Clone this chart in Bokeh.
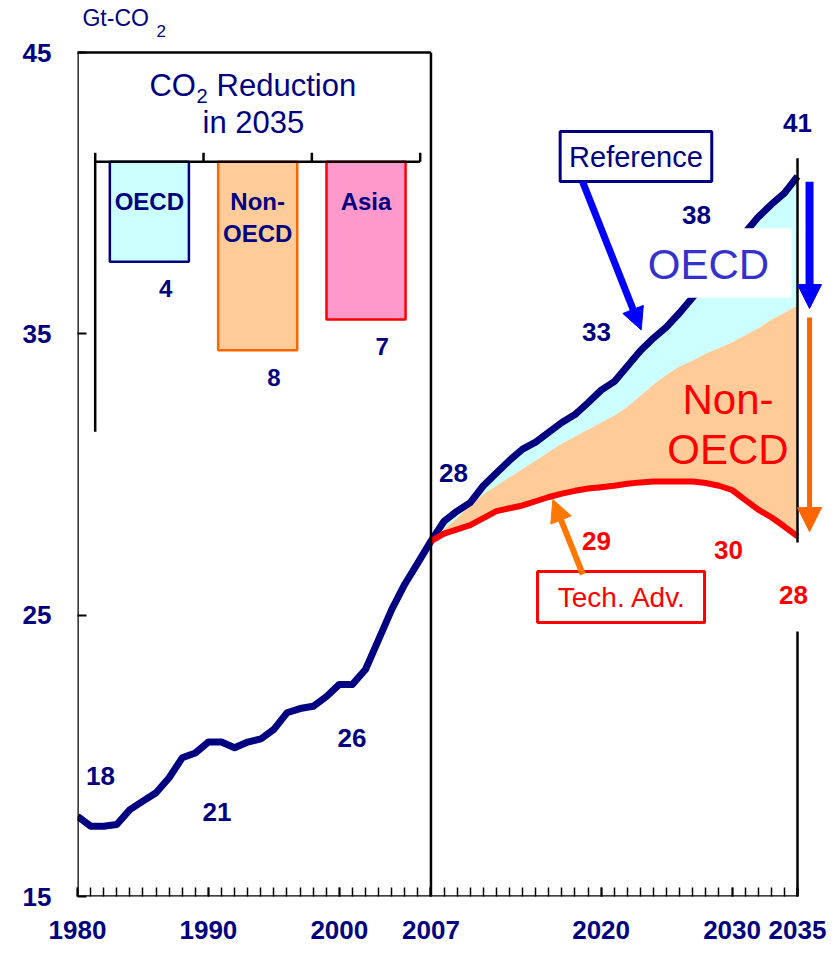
from bokeh.plotting import figure
from bokeh.models import Range1d, FixedTicker, Arrow, NormalHead
from bokeh.core.properties import value
from bokeh.embed import file_html
from bokeh.resources import INLINE

FONT = "Liberation Sans"
NAVY = "#000080"
RED = "#FF0000"

# ---------------- data ----------------
hist_years = list(range(1980, 2008))
ref_hist = [17.85, 17.5, 17.5, 17.56, 18.09, 18.39, 18.69, 19.22, 19.93, 20.1,
            20.49, 20.49, 20.29, 20.49, 20.6, 20.94, 21.53, 21.68, 21.76, 22.1,
            22.54, 22.54, 23.07, 24.13, 25.2, 26.1, 26.86, 27.63]
proj_years = list(range(2007, 2036))
ref_proj = [27.63, 28.34, 28.7, 29.0, 29.6, 30.05, 30.5, 30.9, 31.15, 31.5,
            31.85, 32.13, 32.55, 33.0, 33.3, 33.85, 34.4, 34.85, 35.25, 35.75,
            36.3, 36.9, 37.5, 38.1, 38.6, 39.15, 39.6, 40.0, 40.6]
oecd_cut = [27.63, 28.05, 28.45, 28.9, 29.3, 29.6, 29.9, 30.2, 30.5, 30.8,
            31.1, 31.35, 31.6, 31.85, 32.1, 32.4, 32.8, 33.2, 33.55, 33.85,
            34.05, 34.3, 34.5, 34.7, 34.95, 35.2, 35.5, 35.75, 36.0]
tech_adv = [27.63, 27.9, 28.05, 28.2, 28.45, 28.7, 28.8, 28.9, 29.05, 29.2,
            29.32, 29.42, 29.5, 29.55, 29.6, 29.67, 29.72, 29.75, 29.75, 29.75,
            29.75, 29.7, 29.6, 29.45, 29.1, 28.75, 28.48, 28.15, 27.8]

ref_years = hist_years + proj_years[1:]
ref_all = ref_hist + ref_proj[1:]

x_tick_years = [1980, 1990, 2000, 2007, 2020, 2030, 2035]
y_ticks = [15, 25, 35, 45]

# value labels on the chart
navy_labels = ["18", "21", "26", "28", "33", "38", "41"]
navy_lab_x = [1981.76, 1990.66, 2000.97, 2008.72, 2019.65, 2027.29, 2035.0]
navy_lab_y = [19.28, 18.02, 20.65, 30.07, 35.08, 39.21, 42.51]
red_labels = ["29", "30", "28"]
red_lab_x = [2019.65, 2029.73, 2034.69]
red_lab_y = [27.65, 27.30, 25.70]

# inset: CO2 reduction in 2035
regions = ["OECD", "Non-OECD", "Asia"]
reduction = [4.4, 8.3, 6.95]
reduction_labels = ["4", "8", "7"]
bar_fill = ["#CCFFFF", "#FFCC99", "#FF99CC"]
bar_line = [NAVY, "#FF6600", RED]

# ---------------- figure ----------------
PX_PER_YEAR = 720 / 55
W, H = 830, 950
X0, X1 = 1980, 1980 + (W - 77) / PX_PER_YEAR
p = figure(width=W, height=H, x_range=Range1d(X0, X1), y_range=Range1d(15, 46.849),
           output_backend="svg", toolbar_location=None, title=None,
           min_border_left=77, min_border_right=0, min_border_top=0, min_border_bottom=H - 896)
p.outline_line_color = None
p.grid.visible = False
p.background_fill_color = "white"
p.border_fill_color = "white"

p.extra_x_ranges = {"ix": Range1d(-0.1634, -0.1634 + (W - 77) / 108.33)}
p.extra_y_ranges = {"iy": Range1d(32.366, 32.366 - 896 / 22.7)}

# axes
xa = p.xaxis[0]
xa.ticker = FixedTicker(ticks=x_tick_years, minor_ticks=list(range(1980, 2036)))
xa.axis_line_color = None
xa.major_tick_in = 9
xa.major_tick_out = 0
xa.minor_tick_in = 9
xa.minor_tick_out = 0
xa.major_tick_line_width = 2
xa.minor_tick_line_width = 1.5
xa.major_tick_line_color = "black"
xa.minor_tick_line_color = "black"
xa.major_label_text_font = FONT
xa.major_label_text_font_style = "bold"
xa.major_label_text_font_size = "26px"
xa.major_label_text_color = NAVY
xa.major_label_standoff = 24

ya = p.yaxis[0]
ya.ticker = FixedTicker(ticks=y_ticks, minor_ticks=[])
ya.axis_line_color = None
ya.major_tick_in = 9
ya.major_tick_out = 0
ya.minor_tick_in = 0
ya.minor_tick_out = 0
ya.major_tick_line_width = 2
ya.major_tick_line_color = "black"
ya.major_label_text_font = FONT
ya.major_label_text_font_style = "bold"
ya.major_label_text_font_size = "26px"
ya.major_label_text_color = NAVY
ya.major_label_standoff = 26

# areas
p.varea(x=proj_years, y1=oecd_cut, y2=ref_proj, fill_color="#CCFFFF")
p.varea(x=proj_years, y1=tech_adv, y2=oecd_cut, fill_color="#FFCC99")

# lines
p.line(ref_years, ref_all, line_color=NAVY, line_width=7, line_join="round")
p.line(proj_years, tech_adv, line_color=RED, line_width=6, line_join="round")

# white OECD label box covering the line
p.rect(x=[2028.74], y=[37.52], width=11.59, height=2.474, fill_color="white", line_color=None)
p.text(x=[2028.2], y=[37.46], text=["OECD"], text_font=value(FONT), text_font_size="42px",
       text_color="#3333CC", text_align="center", text_baseline="middle")
p.text(x=[2029.69, 2029.69], y=[32.65, 30.89], text=["Non-", "OECD"], text_font=value(FONT),
       text_font_size="42px", text_color=RED, text_align="center", text_baseline="middle")

# frame lines
p.segment(x0=[1980, 1980, 1980, 2007, 2035, 2035], y0=[15, 15, 45, 15, 15, 27.58],
          x1=[1980, 2035, 2007, 2007, 2035, 2035], y1=[45, 15, 45, 45, 24.42, 41.24],
          line_color="black", line_width=2.5)

# value labels
p.text(x=navy_lab_x, y=navy_lab_y, text=navy_labels, text_font=value(FONT), text_font_size="26px",
       text_font_style="bold", text_color=NAVY, text_align="center", text_baseline="middle")
p.text(x=red_lab_x, y=red_lab_y, text=red_labels, text_font=value(FONT), text_font_size="26px",
       text_font_style="bold", text_color=RED, text_align="center", text_baseline="middle")

# unit label
p.text(x=[1980.38], y=[46.21], text=["Gt-CO"], text_font=value(FONT), text_font_size="23px",
       text_color=NAVY, text_align="left", text_baseline="middle")
p.text(x=[1986.03], y=[45.76], text=["2"], text_font=value(FONT), text_font_size="17px",
       text_color=NAVY, text_align="left", text_baseline="middle")

# Reference / Tech. Adv. boxes
p.rect(x=[2022.66], y=[41.30], width=11.58, height=1.777, fill_color="white",
       line_color=NAVY, line_width=3)
p.text(x=[2022.66], y=[41.28], text=["Reference"], text_font=value(FONT), text_font_size="29px",
       text_color=NAVY, text_align="center", text_baseline="middle")
p.rect(x=[2021.52], y=[25.646], width=12.76, height=1.81, fill_color="white",
       line_color=RED, line_width=3)
p.text(x=[2021.6], y=[25.63], text=["Tech. Adv."], text_font=value(FONT), text_font_size="28px",
       text_color=RED, text_align="center", text_baseline="middle")

# arrows
p.add_layout(Arrow(end=NormalHead(size=22, fill_color="#0000FF", line_color="#0000FF"),
                   x_start=2018.58, y_start=40.41, x_end=2023.06, y_end=35.14,
                   line_color="#0000FF", line_width=7))
p.add_layout(Arrow(end=NormalHead(size=22, fill_color="#FF7700", line_color="#FF7700"),
                   x_start=2018.6, y_start=26.45, x_end=2016.31, y_end=29.11,
                   line_color="#FF7700", line_width=6))
p.add_layout(Arrow(end=NormalHead(size=24, fill_color="#0000FF", line_color="#0000FF"),
                   x_start=2035.92, y_start=40.41, x_end=2035.92, y_end=35.90,
                   line_color="#0000FF", line_width=8))
p.add_layout(Arrow(end=NormalHead(size=24, fill_color="#FF6600", line_color="#FF6600"),
                   x_start=2035.92, y_start=35.58, x_end=2035.92, y_end=27.97,
                   line_color="#FF6600", line_width=5))

# ---------------- inset ----------------
bar_x = [i + 0.5 for i in range(len(regions))]
p.vbar(x=bar_x, bottom=0, top=reduction, width=0.73, fill_color=bar_fill, line_color=bar_line,
       line_width=2.5, x_range_name="ix", y_range_name="iy")
p.segment(x0=[0, 0, 1, 2, 3], y0=[0, -0.4, 0, 0, 0], x1=[3, 0, 1, 2, 3], y1=[0, 11.89, -0.4, -0.4, -0.4],
          line_color="black", line_width=2.5, x_range_name="ix", y_range_name="iy")
p.text(x=[0.5, 1.5, 1.5, 2.5], y=[1.75, 1.75, 3.18, 1.75], text=["OECD", "Non-", "OECD", "Asia"],
       text_font=value(FONT), text_font_size="24px", text_font_style="bold", text_color=NAVY,
       text_align="center", text_baseline="middle", x_range_name="ix", y_range_name="iy")
p.text(x=[b + 0.15 for b in bar_x], y=[r + 1.19 for r in reduction], text=reduction_labels,
       text_font=value(FONT), text_font_size="24px", text_font_style="bold", text_color=NAVY,
       text_align="center", text_baseline="middle", x_range_name="ix", y_range_name="iy")
p.text(x=[0.501, 1.12], y=[-3.34, -3.34], text=["CO", "Reduction"], text_font=value(FONT),
       text_font_size="31px", text_color=NAVY, text_align="left", text_baseline="middle",
       x_range_name="ix", y_range_name="iy")
p.text(x=[0.935], y=[-2.90], text=["2"], text_font=value(FONT), text_font_size="20px",
       text_color=NAVY, text_align="left", text_baseline="middle",
       x_range_name="ix", y_range_name="iy")
p.text(x=[1.461], y=[-1.71], text=["in 2035"], text_font=value(FONT), text_font_size="31px",
       text_color=NAVY, text_align="center", text_baseline="middle",
       x_range_name="ix", y_range_name="iy")

open("out.html", "w").write(file_html(p, INLINE))
